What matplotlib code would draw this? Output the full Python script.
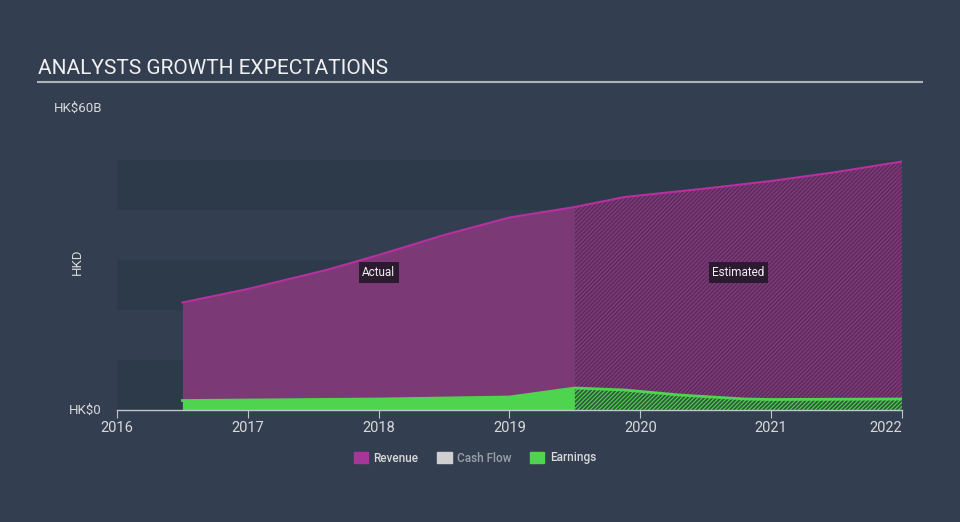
import matplotlib.pyplot as plt
from matplotlib.patches import Patch
import numpy as np

plt.rcParams['font.family'] = ['Roboto', 'DejaVu Sans']

# values in HK$ billions
rev_years = [2016.5, 2017.0, 2017.6, 2018.0, 2018.5, 2019.0, 2019.5, 2019.88, 2020.5, 2021.0, 2021.5, 2022.0]
revenue = [21.5, 24.2, 28.0, 31.0, 35.0, 38.5, 40.6, 42.6, 44.3, 45.8, 47.6, 49.7]
earn_years = [2016.5, 2017.0, 2018.0, 2019.0, 2019.5, 2019.88, 2020.3, 2020.8, 2021.0, 2022.0]
earnings = [1.9, 2.0, 2.2, 2.6, 4.4, 4.0, 3.0, 2.2, 2.1, 2.2]
split_year = 2019.5

x_ticks = [2016, 2017, 2018, 2019, 2020, 2021, 2022]

BG = '#333f50'
BAND = '#2d3a49'
REV_FILL = '#7b3a75'
REV_LINE = '#b8309f'
EARN = '#4fd44f'
TXT = '#d9d9d9'

fig = plt.figure(figsize=(9.6, 5.22), dpi=100)
fig.patch.set_facecolor(BG)

W, H = 960, 522
ax = fig.add_axes([117 / W, (H - 410) / H, (902 - 117) / W, 300 / H])
ax.set_facecolor(BG)
ax.set_xlim(2016, 2022)
ax.set_ylim(0, 60)

# background bands
for k in range(0, 5, 2):
    ax.axhspan(k * 10, k * 10 + 10, color=BAND, lw=0, zorder=0)

ry = np.array(rev_years)
rv = np.array(revenue)
ey = np.array(earn_years)
ev = np.array(earnings)

# actual part
m = ry <= split_year
ax.fill_between(ry[m], 0, rv[m], color=REV_FILL, lw=0, zorder=1)
m2 = ey <= split_year
ax.fill_between(ey[m2], 0, ev[m2], color=EARN, lw=0, zorder=2)

# estimated part (hatched)
plt.rcParams['hatch.linewidth'] = 0.8
m = ry >= split_year
ax.fill_between(ry[m], 0, rv[m], facecolor=REV_FILL, edgecolor='#55285a',
                hatch='////////', lw=0, zorder=1)
m2 = ey >= split_year
ax.fill_between(ey[m2], 0, ev[m2], facecolor='#2f5a3c', edgecolor=EARN,
                hatch='////////', lw=0, zorder=2)

ax.plot(ry, rv, color=REV_LINE, lw=1.5, zorder=3)
ax.plot(ey, ev, color=EARN, lw=2, zorder=3)

box = dict(boxstyle='square,pad=0.3', fc='#2b1a30', ec='none')
ax.text(2018.0, 27.5, 'Actual', color='#f0f0f0', fontsize=8.5, ha='center', va='center', bbox=box, zorder=5)
ax.text(2020.75, 27.5, 'Estimated', color='#f0f0f0', fontsize=8.5, ha='center', va='center', bbox=box, zorder=5)

for s in ['top', 'right', 'left']:
    ax.spines[s].set_visible(False)
ax.spines['bottom'].set_color('#c0c4cc')
ax.spines['bottom'].set_linewidth(1)
ax.set_yticks([])
ax.set_xticks(x_ticks)
ax.set_xticklabels([str(x) for x in x_ticks])
ax.tick_params(axis='x', colors='#c0c4cc', labelcolor=TXT, labelsize=10.5, length=6, direction='out', pad=2)
lbls = ax.get_xticklabels()
lbls[-1].set_ha('right')

# y labels
fig.text(102 / W, 1 - 108 / H, 'HK$60B', color=TXT, fontsize=9.5, ha='right', va='center')
fig.text(102 / W, 1 - 410 / H, 'HK$0', color=TXT, fontsize=9.5, ha='right', va='center')
fig.text(77 / W, 1 - 262 / H, 'HKD', color=TXT, fontsize=9.5, ha='center', va='center', rotation=90)

# title
fig.text(38 / W, 1 - 68 / H, 'ANALYSTS GROWTH EXPECTATIONS', color='#f0f0f0', fontsize=15, ha='left', va='center')
fig.add_artist(plt.Line2D([38 / W, 922 / W], [1 - 82 / H, 1 - 82 / H], color='#b0b4ba', lw=1.5))

handles = [Patch(color='#a8369a', label='Revenue'),
           Patch(color='#d0d0d0', label='Cash Flow'),
           Patch(color=EARN, label='Earnings')]
leg = fig.legend(handles=handles, loc='center', bbox_to_anchor=(475 / W, 1 - 458 / H), ncol=3,
                 frameon=False, fontsize=8.5, handlelength=1.2, handleheight=1.0,
                 columnspacing=1.6, handletextpad=0.45,
                 prop={'weight': 'medium', 'size': 8.5})
for t, c in zip(leg.get_texts(), [TXT, '#9aa0a8', TXT]):
    t.set_color(c)

fig.savefig('out.png', dpi=100, facecolor=BG)
